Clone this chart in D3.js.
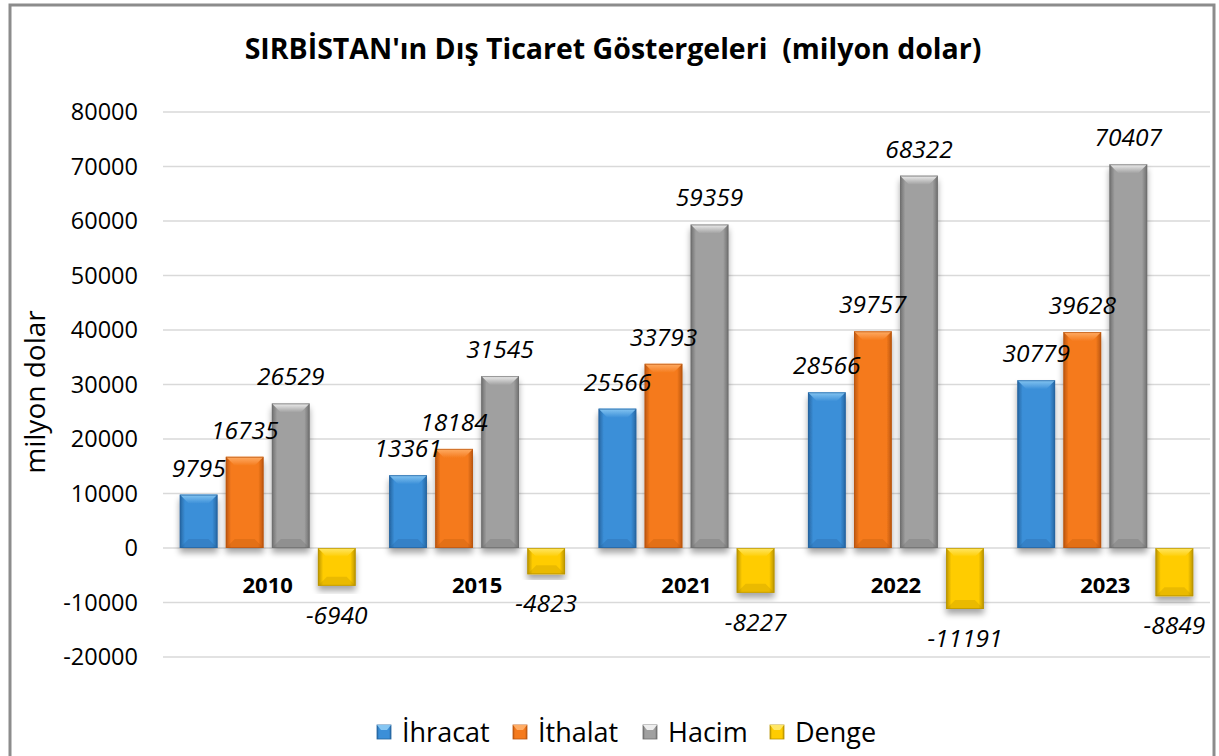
<html>
<head>
<meta charset="utf-8">
<title>Sırbistan Dış Ticaret</title>
<script src="https://cdn.jsdelivr.net/npm/d3@7"></script>
<style>
  body { margin: 0; background: #fff; }
  svg text { font-family: "Open Sans", "DejaVu Sans", sans-serif; fill: #000; }
</style>
</head>
<body>
<div id="chart"></div>
<script>
// --- veriler (milyon dolar) ---
const years   = ["2010", "2015", "2021", "2022", "2023"];
const series  = ["İhracat", "İthalat", "Hacim", "Denge"];
const ihracat = [9795, 13361, 25566, 28566, 30779];
const ithalat = [16735, 18184, 33793, 39757, 39628];
const hacim   = [26529, 31545, 59359, 68322, 70407];
const denge   = [-6940, -4823, -8227, -11191, -8849];
const yTicks  = [-20000, -10000, 0, 10000, 20000, 30000, 40000, 50000, 60000, 70000, 80000];

const values = [ihracat, ithalat, hacim, denge];
const colors = [
  { main: "#3b8fd8", light: "#86c6f2", dark: "#25649f" },
  { main: "#f57a1c", light: "#ffad66", dark: "#b9550f" },
  { main: "#a0a0a0", light: "#eeeeee", dark: "#6e6e6e" },
  { main: "#ffcc00", light: "#ffe766", dark: "#b89300" }
];

const W = 1219, H = 756;
const svg = d3.select("#chart").append("svg").attr("width", W).attr("height", H);
const defs = svg.append("defs");

// gölge
const sh = defs.append("filter").attr("id", "shadow")
  .attr("x", "-30%").attr("y", "-10%").attr("width", "160%").attr("height", "130%");
sh.append("feGaussianBlur").attr("in", "SourceAlpha").attr("stdDeviation", 3);
sh.append("feOffset").attr("dy", 5).attr("result", "ob");
sh.append("feComponentTransfer").append("feFuncA").attr("type", "linear").attr("slope", 0.35);
const mg = sh.append("feMerge");
mg.append("feMergeNode");
mg.append("feMergeNode").attr("in", "SourceGraphic");

colors.forEach(function(c, i) {
  const g = defs.append("linearGradient").attr("id", "side" + i)
    .attr("x1", "0").attr("x2", "1").attr("y1", "0").attr("y2", "0");
  g.append("stop").attr("offset", "0").attr("stop-color", c.dark);
  g.append("stop").attr("offset", "0.14").attr("stop-color", c.main);
  g.append("stop").attr("offset", "0.5").attr("stop-color", c.main);
  g.append("stop").attr("offset", "0.86").attr("stop-color", c.main);
  g.append("stop").attr("offset", "1").attr("stop-color", c.dark);
  const t = defs.append("linearGradient").attr("id", "top" + i)
    .attr("x1", "0").attr("x2", "0").attr("y1", "0").attr("y2", "1");
  t.append("stop").attr("offset", "0").attr("stop-color", c.light);
  t.append("stop").attr("offset", "1").attr("stop-color", c.main);
});

// çerçeve
svg.append("rect").attr("x", 10).attr("y", 5).attr("width", 1204).attr("height", 780)
  .attr("fill", "none").attr("stroke", "#8c8c8c").attr("stroke-width", 3);

// başlık
svg.append("text").attr("x", 613).attr("y", 59).attr("text-anchor", "middle")
  .attr("xml:space", "preserve").style("white-space", "pre")
  .style("font-size", "28.5px").style("font-weight", "bold")
  .text("SIRBİSTAN'ın Dış Ticaret Göstergeleri  (milyon dolar)");

const left = 163, right = 1210;
const y = d3.scaleLinear().domain([-20000, 80000]).range([657, 112]);
const x0 = d3.scaleBand().domain(years).range([left, right]).paddingInner(0.16).paddingOuter(0.08);
const x1 = d3.scaleBand().domain(series).range([0, x0.bandwidth()]).paddingInner(0.18);

// ızgara
svg.append("g").selectAll("line").data(yTicks).enter().append("line")
  .attr("x1", left).attr("x2", right)
  .attr("y1", function(d) { return y(d); }).attr("y2", function(d) { return y(d); })
  .attr("stroke", "#d9d9d9").attr("stroke-width", 1.5);

// y ekseni
const yAxis = svg.append("g").attr("transform", "translate(" + left + ",0)")
  .call(d3.axisLeft(y).tickValues(yTicks).tickSize(0).tickPadding(25)
    .tickFormat(function(d) { return String(d); }));
yAxis.select(".domain").remove();
yAxis.selectAll("text").style("font-size", "23.5px").style("font-family", "'Open Sans', sans-serif");

svg.append("text").attr("transform", "translate(45,392) rotate(-90)")
  .attr("text-anchor", "middle").style("font-size", "28px").text("milyon dolar");

// çubuklar
const groups = svg.append("g").selectAll("g.year").data(years).enter().append("g")
  .attr("class", "year")
  .attr("transform", function(d) { return "translate(" + x0(d) + ",0)"; });

series.forEach(function(s, si) {
  const bars = groups.append("g").attr("filter", "url(#shadow)");
  bars.each(function(yr, yi) {
    const v = values[si][yi];
    const bx = x1(s), bw = x1.bandwidth();
    const top = Math.min(y(v), y(0)), bot = Math.max(y(v), y(0));
    const bh = bot - top;
    const b = Math.min(9, bh / 2);
    const c = colors[si];
    const el = d3.select(this);
    el.append("rect").attr("x", bx).attr("y", top).attr("width", bw).attr("height", bh)
      .attr("fill", "url(#side" + si + ")");
    el.append("polygon")
      .attr("points", [[bx, top], [bx + bw, top], [bx + bw - b, top + b], [bx + b, top + b]].join(" "))
      .attr("fill", "url(#top" + si + ")");
    el.append("polygon")
      .attr("points", [[bx, bot], [bx + bw, bot], [bx + bw - b, bot - b], [bx + b, bot - b]].join(" "))
      .attr("fill", c.dark).attr("opacity", 0.3);
    el.append("rect").attr("x", bx + 0.5).attr("y", top + 0.5).attr("width", bw - 1).attr("height", bh - 1)
      .attr("fill", "none").attr("stroke", c.dark).attr("stroke-width", 1).attr("opacity", 0.7);
  });
});

// değer etiketleri
series.forEach(function(s, si) {
  groups.append("text")
    .attr("x", x1(s) + x1.bandwidth() / 2)
    .attr("y", function(d, i) {
      const v = values[si][i];
      return v >= 0 ? y(v) - 18 : y(v) + 38;
    })
    .attr("text-anchor", "middle")
    .style("font-size", "24.5px").style("font-style", "italic")
    .text(function(d, i) { return values[si][i]; });
});

// yıl etiketleri
groups.append("text")
  .attr("x", x0.bandwidth() / 2).attr("y", 593)
  .attr("text-anchor", "middle")
  .style("font-size", "22px").style("font-weight", "bold")
  .text(function(d) { return d; });

// açıklama
const legendX = [377, 513, 643, 770];
const leg = svg.append("g").selectAll("g").data(series).enter().append("g")
  .attr("transform", function(d, i) { return "translate(" + legendX[i] + ",725)"; });
leg.append("rect").attr("width", 14).attr("height", 14)
  .attr("fill", function(d, i) { return "url(#side" + i + ")"; })
  .attr("stroke", function(d, i) { return colors[i].dark; }).attr("stroke-width", 0.8);
leg.append("polygon").attr("points", "0,0 14,0 10,5 4,5")
  .attr("fill", function(d, i) { return colors[i].light; });
leg.append("text").attr("x", 25).attr("y", 17)
  .style("font-size", "27px").text(function(d) { return d; });
</script>
</body>
</html>
